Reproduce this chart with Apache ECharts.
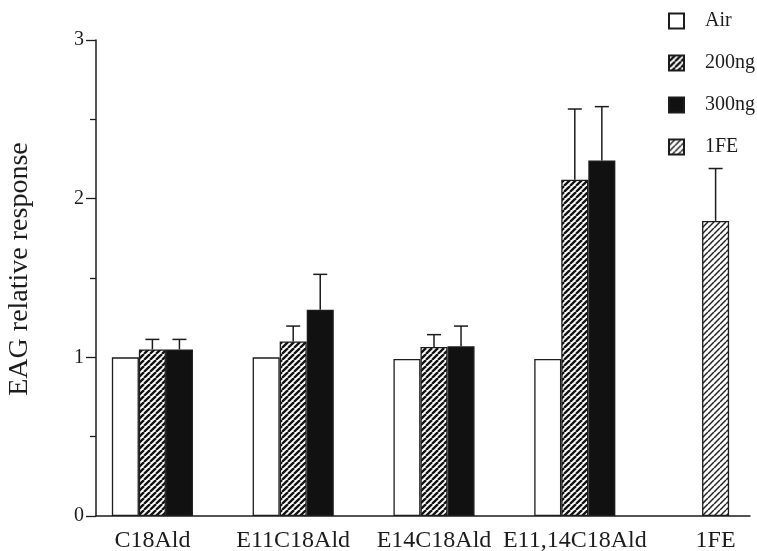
<!DOCTYPE html>
<html>
<head>
<meta charset="utf-8">
<script src="https://cdn.jsdelivr.net/npm/echarts@6/dist/echarts.min.js"></script>
<style>
html,body{margin:0;padding:0;background:#fff;}
#chart{width:757px;height:551px;}
</style>
</head>
<body>
<div id="chart"></div>
<script>
// ---- data ----
const categories = ['C18Ald', 'E11C18Ald', 'E14C18Ald', 'E11,14C18Ald', '1FE'];
const seriesNames = ['Air', '200ng', '300ng', '1FE'];
const airValues   = [1.00, 1.00, 0.99, 0.99, null];
const ng200Values = [1.05, 1.10, 1.065, 2.12, null];
const ng300Values = [1.05, 1.30, 1.07, 2.24, null];
const feValues    = [null, null, null, null, 1.86];
const ng200Err    = [0.063, 0.097, 0.078, 0.445, null];
const ng300Err    = [0.063, 0.223, 0.127, 0.34, null];
const feErr       = [null, null, null, null, 0.33];
const yTicks = [0, 1, 2, 3];

// ---- styling helpers ----
const FONT = '"Liberation Serif", "Times New Roman", serif';
const INK = '#1c1c1c';
const BAR_FRAC = 0.192;

function makeHatch(size, lw, color) {
  const c = document.createElement('canvas');
  c.width = size; c.height = size;
  const ctx = c.getContext('2d');
  ctx.fillStyle = '#fff';
  ctx.fillRect(0, 0, size, size);
  ctx.strokeStyle = color;
  ctx.lineWidth = lw;
  for (let k = -1; k <= 1; k++) {
    ctx.beginPath();
    ctx.moveTo(k * size, size);
    ctx.lineTo(k * size + size, 0);
    ctx.stroke();
  }
  return c;
}
const hatch200 = makeHatch(6, 2.3, '#111');
const hatchFE = makeHatch(6, 1.5, '#222');

function errItems(means, errs, slot) {
  const out = [];
  means.forEach((m, i) => {
    if (m != null && errs[i] != null) out.push([i, m, errs[i], slot]);
  });
  return out;
}

function renderErr(params, api) {
  const cat = api.value(0), mean = api.value(1), err = api.value(2), slot = api.value(3);
  const band = api.size([1, 0])[0];
  const bw = band * BAR_FRAC;
  const base = api.coord([cat, mean]);
  const top = api.coord([cat, mean + err]);
  const x = base[0] + slot * bw;
  const half = 7;
  const st = { stroke: INK, lineWidth: 1.5 };
  return {
    type: 'group',
    children: [
      { type: 'line', shape: { x1: x, y1: base[1], x2: x, y2: top[1] }, style: st },
      { type: 'line', shape: { x1: x - half, y1: top[1], x2: x + half, y2: top[1] }, style: st }
    ]
  };
}

const barCommon = {
  type: 'bar', xAxisIndex: 1, yAxisIndex: 1,
  barWidth: (BAR_FRAC * 100) + '%', barGap: '0%',
  emphasis: { disabled: true }
};

const chart = echarts.init(document.getElementById('chart'), null, { renderer: 'canvas' });
chart.setOption({
  animation: false,
  backgroundColor: '#fff',
  grid: [
    { left: 96, right: 7, top: 40, bottom: 35, containLabel: false, outerBoundsMode: 'none' },
    { left: 82, width: 704, top: 40, bottom: 35, containLabel: false, outerBoundsMode: 'none' }
  ],
  legend: {
    data: seriesNames,
    orient: 'vertical',
    icon: 'rect',
    left: 668, top: 11, padding: 0,
    itemWidth: 15, itemHeight: 15, itemGap: 22,
    selectedMode: false,
    textStyle: { fontFamily: FONT, fontSize: 20, color: INK, padding: [0, 0, 0, 16] }
  },
  xAxis: [
    {
      gridIndex: 0, type: 'category', data: categories,
      axisLine: { show: true, lineStyle: { color: INK, width: 1.5 } },
      axisTick: { show: false }, axisLabel: { show: false }, splitLine: { show: false }
    },
    {
      gridIndex: 1, type: 'category', data: categories,
      axisLine: { show: false }, axisTick: { show: false }, splitLine: { show: false },
      axisLabel: { fontFamily: FONT, fontSize: 24, color: INK, margin: 13, interval: 0 }
    }
  ],
  yAxis: [
    {
      gridIndex: 0, type: 'value', min: yTicks[0], max: yTicks[yTicks.length - 1], interval: 1,
      axisLine: { show: true, lineStyle: { color: INK, width: 1.5 } },
      axisTick: { show: true, length: 10, lineStyle: { color: INK, width: 1.3 } },
      minorTick: { show: true, splitNumber: 2, length: 6, lineStyle: { color: INK, width: 1.3 } },
      axisLabel: { fontFamily: FONT, fontSize: 20, color: INK, margin: 12 },
      splitLine: { show: false }
    },
    {
      gridIndex: 1, type: 'value', min: yTicks[0], max: yTicks[yTicks.length - 1], show: false
    }
  ],
  graphic: [
    {
      type: 'text', x: 19.5, y: 269, rotation: Math.PI / 2,
      style: { text: 'EAG relative response', fontFamily: FONT, fontSize: 28, fill: INK, align: 'center', verticalAlign: 'middle' }
    }
  ],
  series: [
    Object.assign({}, barCommon, {
      name: 'Air', data: airValues,
      itemStyle: { color: '#fff', borderColor: INK, borderWidth: 1.3 }
    }),
    Object.assign({}, barCommon, {
      name: '200ng', stack: 'mid', data: ng200Values,
      itemStyle: { color: { image: hatch200, repeat: 'repeat' }, borderColor: INK, borderWidth: 1.3 }
    }),
    Object.assign({}, barCommon, {
      name: '300ng', data: ng300Values,
      itemStyle: { color: '#111', borderColor: INK, borderWidth: 1.3 }
    }),
    Object.assign({}, barCommon, {
      name: '1FE', stack: 'mid', data: feValues,
      itemStyle: { color: { image: hatchFE, repeat: 'repeat' }, borderColor: INK, borderWidth: 1.3 }
    }),
    {
      type: 'custom', name: 'err', xAxisIndex: 1, yAxisIndex: 1,
      renderItem: renderErr, silent: true, z: 3,
      data: [].concat(
        errItems(ng200Values, ng200Err, 0),
        errItems(ng300Values, ng300Err, 1),
        errItems(feValues, feErr, 0)
      )
    }
  ]
});
</script>
</body>
</html>
